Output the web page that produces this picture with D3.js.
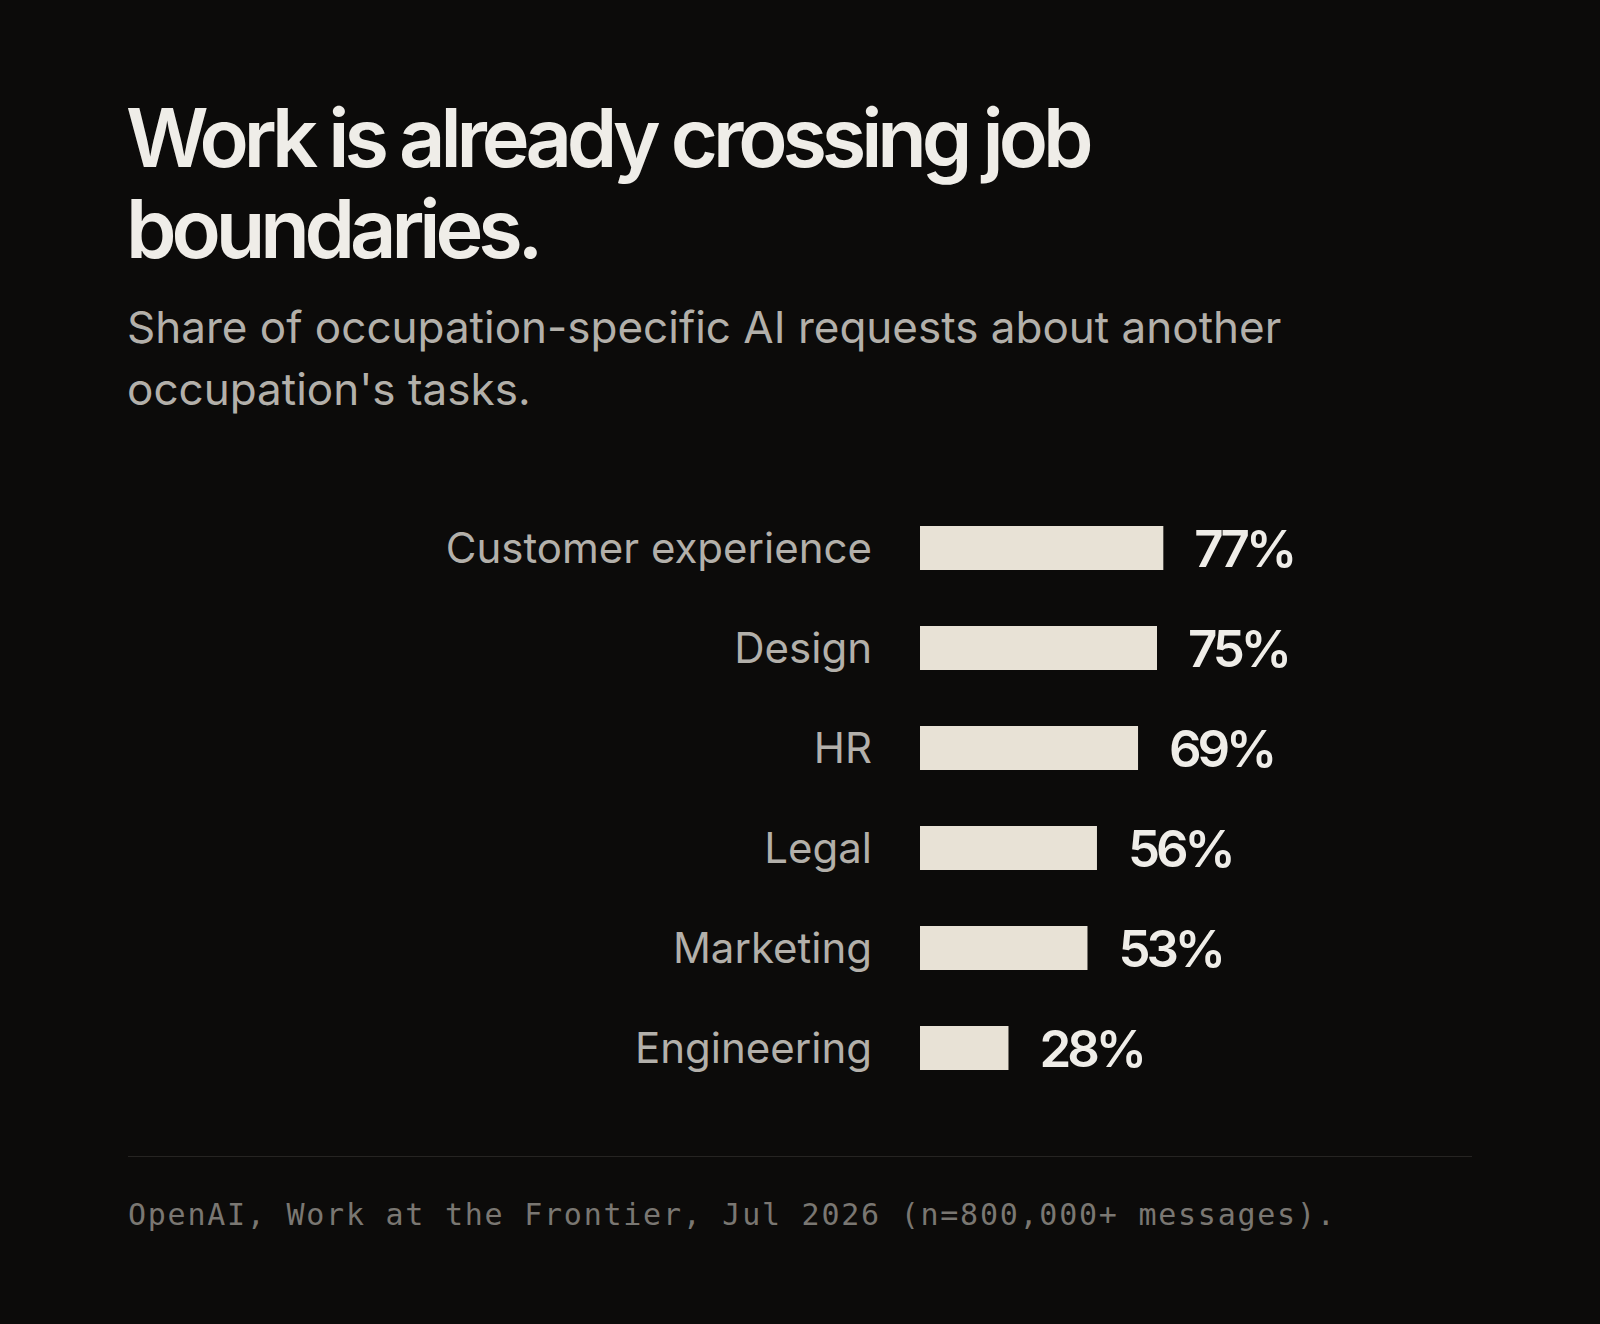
<!DOCTYPE html>
<html>
<head>
<meta charset="utf-8">
<script src="https://cdn.jsdelivr.net/npm/d3@7"></script>
<style>
  html, body { margin: 0; padding: 0; background: #0c0b0a; }
  svg { display: block; }
</style>
</head>
<body>
<div id="chart"></div>
<script>
// chart data
var categories = ["Customer experience", "Design", "HR", "Legal", "Marketing", "Engineering"];
var shares = [77, 75, 69, 56, 53, 28];
var titleLines = ["Work is already crossing job", "boundaries."];
var subtitleLines = ["Share of occupation-specific AI requests about another", "occupation's tasks."];
var sourceNote = "OpenAI, Work at the Frontier, Jul 2026 (n=800,000+ messages).";

// svg size
var svgWidth = 1600;
var svgHeight = 1324;
var left = 128;

var svg = d3.select("#chart")
  .append("svg")
  .attr("width", svgWidth)
  .attr("height", svgHeight);

svg.append("rect")
  .attr("width", svgWidth)
  .attr("height", svgHeight)
  .attr("fill", "#0c0b0a");

// title
svg.append("text")
  .attr("font-family", "Inter, sans-serif")
  .attr("font-weight", 600)
  .attr("font-size", 81)
  .attr("letter-spacing", "-0.063em")
  .attr("fill", "#efede8")
  .selectAll("tspan")
  .data(titleLines)
  .enter().append("tspan")
  .attr("x", left - 2)
  .attr("y", (d, i) => 167 + i * 91)
  .text(d => d);

// subtitle
svg.append("text")
  .attr("font-family", "Inter, sans-serif")
  .attr("font-size", 44)
  .attr("fill", "#b3b0aa")
  .selectAll("tspan")
  .data(subtitleLines)
  .enter().append("tspan")
  .attr("x", left - 1)
  .attr("y", (d, i) => 343 + i * 62)
  .text(d => d);

// scales
var x = d3.scaleLinear()
  .domain([0, 100])
  .range([920, 1236]);

var y = d3.scalePoint()
  .domain(categories)
  .range([548, 1048]);

var barHeight = 44;
var rows = categories.map((c, i) => ({ name: c, value: shares[i] }));

// bars
svg.selectAll(".bar")
  .data(rows)
  .enter().append("rect")
  .attr("class", "bar")
  .attr("x", x(0))
  .attr("y", d => y(d.name) - barHeight / 2)
  .attr("width", d => x(d.value) - x(0))
  .attr("height", barHeight)
  .attr("fill", "#e8e2d6");

// category labels
svg.selectAll(".cat")
  .data(rows)
  .enter().append("text")
  .attr("class", "cat")
  .attr("x", x(0) - 48)
  .attr("y", d => y(d.name) + 15)
  .attr("text-anchor", "end")
  .attr("font-family", "Inter, sans-serif")
  .attr("font-size", 42)
  .attr("fill", "#b3b0aa")
  .text(d => d.name);

// value labels
svg.selectAll(".val")
  .data(rows)
  .enter().append("text")
  .attr("class", "val")
  .attr("x", d => x(d.value) + 31)
  .attr("y", d => y(d.name) + 19)
  .attr("font-family", "Inter, sans-serif")
  .attr("font-weight", 600)
  .attr("font-size", 51)
  .attr("letter-spacing", "-0.08em")
  .attr("fill", "#efede8")
  .text(d => d.value + "%");

// divider
svg.append("line")
  .attr("x1", left)
  .attr("x2", svgWidth - left)
  .attr("y1", 1156.5)
  .attr("y2", 1156.5)
  .attr("stroke", "#262422")
  .attr("stroke-width", 1);

// source note
svg.append("text")
  .attr("x", left)
  .attr("y", 1225)
  .attr("font-family", "'DejaVu Sans Mono', monospace")
  .attr("font-size", 30)
  .attr("letter-spacing", "1.75px")
  .attr("fill", "#7a7772")
  .text(sourceNote);
</script>
</body>
</html>
